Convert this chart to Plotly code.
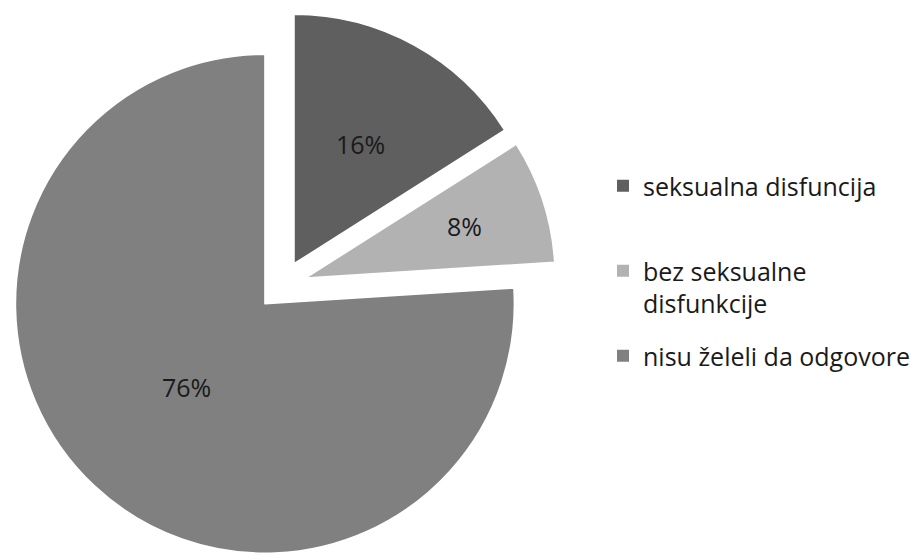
import math
import plotly.graph_objects as go

categories = ["seksualna disfuncija", "bez seksualne<br>disfunkcije", "nisu želeli da odgovore"]
shares = [16, 8, 76]
slice_colors = ["#5f5f5f", "#b2b2b2", "#808080"]

W, H = 916, 560
pull = 0.1
dom_x = [7 / W, 557 / W]
dom_y = [0.0, 0.98]

# radial position of each percentage label, as a fraction of the radius
label_radius = [0.65, 0.77, 0.56]
# top edge (px) of each legend entry
legend_tops = [163, 248, 333]

fig = go.Figure()
fig.add_trace(
    go.Pie(
        labels=categories,
        values=shares,
        sort=False,
        direction="clockwise",
        rotation=0,
        pull=[pull] * len(shares),
        marker=dict(colors=slice_colors, line=dict(color="white", width=1.5)),
        textinfo="none",
        domain=dict(x=dom_x, y=dom_y),
        hoverinfo="label+percent",
        showlegend=False,
    )
)

# pie geometry (same rule plotly uses: radius shrinks to make room for the pull)
cx = (dom_x[0] + dom_x[1]) / 2 * W
cy = (1 - (dom_y[0] + dom_y[1]) / 2) * H
r = min((dom_x[1] - dom_x[0]) * W, (dom_y[1] - dom_y[0]) * H) / 2 / (1 + pull)

total = sum(shares)
start = 0.0
for val, frac in zip(shares, label_radius):
    mid = (start + val / 2) / total * 2 * math.pi
    start += val
    px = cx + frac * r * math.sin(mid)
    py = cy - frac * r * math.cos(mid)
    fig.add_annotation(
        x=px / W, y=1 - py / H, xref="paper", yref="paper",
        xanchor="center", yanchor="middle",
        text=f"{round(val / total * 100)}%",
        showarrow=False,
        font=dict(family="Open Sans", size=25, color="#1a1a1a"),
    )

# legend: one entry per category, each in its own legend box for spacing
legend_keys = ["legend", "legend2", "legend3"]
for name, color, key in zip(categories, slice_colors, legend_keys):
    fig.add_trace(
        go.Scatter(
            x=[None], y=[None], mode="markers", name=name,
            marker=dict(symbol="square", size=12, color=color),
            legend=key, hoverinfo="skip",
        )
    )

legend_common = dict(
    xanchor="left", yanchor="top", valign="top",
    bgcolor="rgba(0,0,0,0)",
    font=dict(family="Open Sans", size=25, color="#1a1a1a"),
)
fig.update_layout(
    width=W,
    height=H,
    margin=dict(l=0, r=0, t=0, b=0),
    paper_bgcolor="white",
    plot_bgcolor="white",
    font=dict(family="Open Sans", size=25, color="#1a1a1a"),
    xaxis=dict(visible=False),
    yaxis=dict(visible=False),
    **{
        key: dict(x=603 / W, y=1 - top / H, **legend_common)
        for key, top in zip(legend_keys, legend_tops)
    },
)

fig.write_html("out.html")
